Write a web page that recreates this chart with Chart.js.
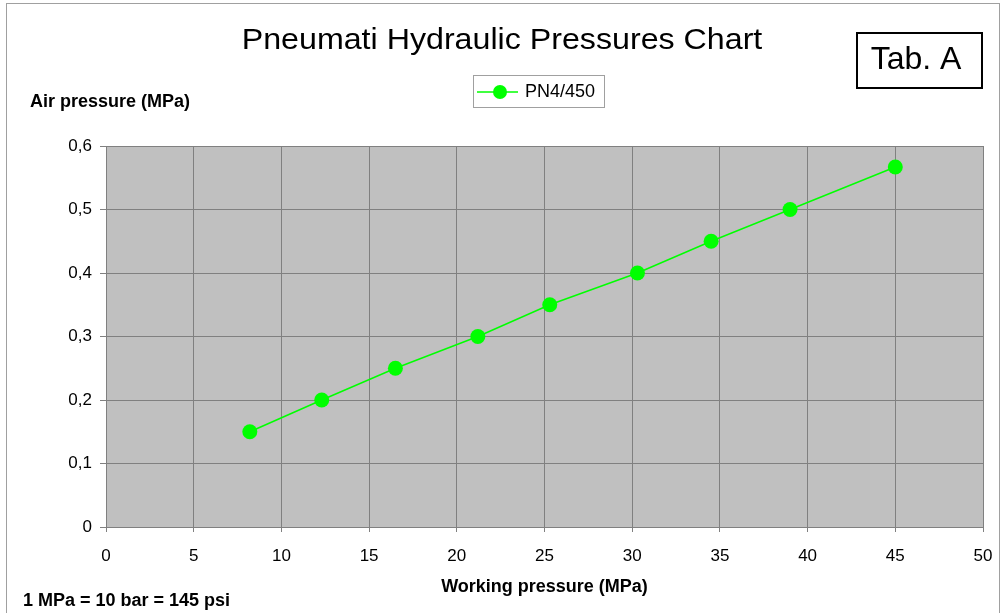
<!DOCTYPE html>
<html>
<head>
<meta charset="UTF-8" />
<title>Pneumati Hydraulic Pressures Chart</title>
<script src="https://cdn.jsdelivr.net/npm/chart.js"></script>
<style>
  html, body { margin: 0; padding: 0; background: #fff; }
  .wrap { position: relative; width: 1005px; height: 613px; }
</style>
</head>
<body>
<div class="wrap"><canvas id="chart"></canvas></div>
<script>
// data
const seriesName = "PN4/450";
const workingPressure = [8.2, 12.3, 16.5, 21.2, 25.3, 30.3, 34.5, 39.0, 45.0];
const airPressure = [0.15, 0.2, 0.25, 0.3, 0.35, 0.4, 0.45, 0.5, 0.567];

const chartTitle = "Pneumati Hydraulic Pressures Chart";
const yTitle = "Air pressure (MPa)";
const xTitle = "Working pressure (MPa)";
const note = "1 MPa = 10 bar = 145 psi";
const tabLabel = "Tab. A";

const FONT = "'Liberation Sans', Arial, sans-serif";
const GREEN = "#00ff00";

// text drawn a little wider than the font, like the original
function wideText(ctx, txt, x, y, sx) {
  ctx.save();
  ctx.translate(x, y);
  ctx.scale(sx, 1);
  ctx.fillText(txt, 0, 0);
  ctx.restore();
}

// texts, boxes and plot background drawn around the chart
const decor = {
  id: "decor",
  beforeDraw(chart) {
    const ctx = chart.ctx;
    const a = chart.chartArea;
    ctx.save();
    ctx.fillStyle = "#fff";
    ctx.fillRect(0, 0, chart.width, chart.height);
    ctx.strokeStyle = "#a0a0a0";
    ctx.lineWidth = 1;
    ctx.strokeRect(6.5, 3.5, 993, 620);
    ctx.fillStyle = "#c0c0c0";
    ctx.fillRect(a.left, a.top, a.right - a.left, a.bottom - a.top);
    ctx.restore();
  },
  afterDraw(chart) {
    const ctx = chart.ctx;
    const a = chart.chartArea;
    ctx.save();
    ctx.fillStyle = "#000";
    ctx.textBaseline = "middle";
    ctx.textAlign = "center";

    ctx.font = "29px " + FONT;
    wideText(ctx, chartTitle, 502, 41, 1.11);

    // Tab. A box
    ctx.strokeStyle = "#000";
    ctx.lineWidth = 2;
    ctx.strokeRect(857, 33, 125, 55);
    ctx.font = "32px " + FONT;
    ctx.fillText(tabLabel, 916, 60);

    // legend
    ctx.strokeStyle = "#a0a0a0";
    ctx.lineWidth = 1;
    ctx.strokeRect(473.5, 75.5, 131, 32);
    ctx.strokeStyle = GREEN;
    ctx.lineWidth = 1.5;
    ctx.beginPath();
    ctx.moveTo(477, 92);
    ctx.lineTo(518, 92);
    ctx.stroke();
    ctx.fillStyle = GREEN;
    ctx.beginPath();
    ctx.arc(500, 92, 7, 0, Math.PI * 2);
    ctx.fill();
    ctx.fillStyle = "#000";
    ctx.font = "18px " + FONT;
    ctx.textAlign = "left";
    ctx.fillText(seriesName, 525, 92);

    // axis titles and note
    ctx.font = "bold 18px " + FONT;
    ctx.textAlign = "left";
    ctx.fillText(yTitle, 30, 102);
    ctx.fillText(note, 23, 601);
    ctx.textAlign = "center";
    ctx.fillText(xTitle, (a.left + a.right) / 2, 587);

    // plot border
    ctx.strokeStyle = "#808080";
    ctx.lineWidth = 1;
    ctx.strokeRect(a.left + 0.5, a.top + 0.5, a.right - a.left, a.bottom - a.top);
    ctx.restore();
  }
};

new Chart(document.getElementById("chart"), {
  type: "line",
  data: {
    datasets: [{
      label: seriesName,
      data: workingPressure.map((x, i) => ({ x: x, y: airPressure[i] })),
      borderColor: GREEN,
      backgroundColor: GREEN,
      borderWidth: 1.5,
      pointRadius: 7.5,
      pointBackgroundColor: GREEN,
      pointBorderColor: GREEN,
      pointBorderWidth: 0,
      tension: 0,
      fill: false
    }]
  },
  options: {
    responsive: true,
    maintainAspectRatio: false,
    animation: false,
    layout: { padding: { left: 0, right: 22, top: 146, bottom: 0 } },
    plugins: { legend: { display: false }, title: { display: false }, tooltip: { enabled: false } },
    scales: {
      x: {
        type: "linear",
        min: 0,
        max: 50,
        afterFit(s) { s.height = 86; s.paddingRight = 0; s.paddingLeft = 0; },
        ticks: { stepSize: 5, color: "#000", font: { family: FONT, size: 17 }, padding: 14, maxRotation: 0 },
        grid: { color: "#808080", tickColor: "#808080", tickLength: 5, drawTicks: true },
        border: { color: "#808080" }
      },
      y: {
        min: 0,
        max: 0.6,
        afterFit(s) { s.width = 106; s.paddingTop = 0; s.paddingBottom = 0; },
        ticks: {
          stepSize: 0.1,
          color: "#000",
          font: { family: FONT, size: 17 },
          padding: 8,
          callback: v => v === 0 ? "0" : v.toFixed(1).replace(".", ",")
        },
        grid: { color: "#808080", tickColor: "#808080", tickLength: 6, drawTicks: true },
        border: { color: "#808080" }
      }
    }
  },
  plugins: [decor]
});
</script>
</body>
</html>
